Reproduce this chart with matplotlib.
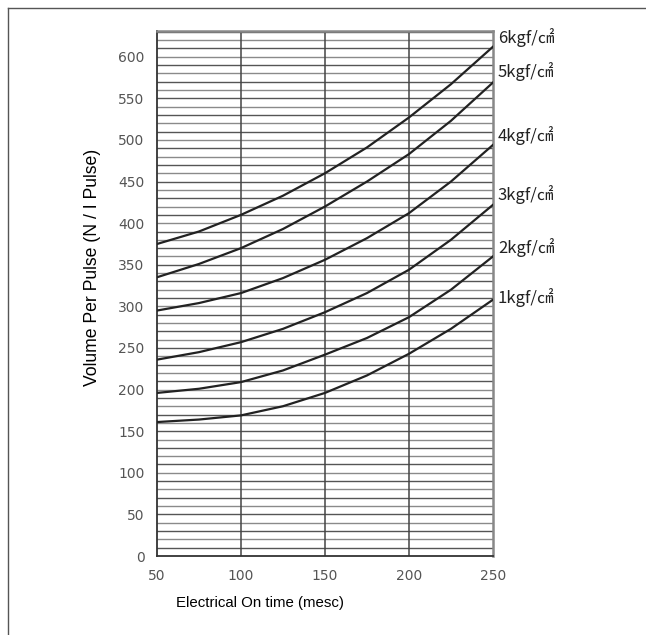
import matplotlib
matplotlib.use("Agg")
import matplotlib.pyplot as plt
from matplotlib.lines import Line2D
import numpy as np

# Data
on_time = [50, 75, 100, 125, 150, 175, 200, 225, 250]
p6 = [375, 390, 410, 433, 460, 491, 527, 567, 612]
p5 = [335, 351, 370, 393, 420, 450, 483, 523, 569]
p4 = [295, 304, 316, 334, 356, 382, 412, 450, 494]
p3 = [236, 245, 257, 273, 293, 316, 344, 380, 422]
p2 = [196, 201, 209, 223, 242, 262, 287, 320, 360]
p1 = [161, 164, 169, 180, 196, 217, 243, 273, 308]
series = [p6, p5, p4, p3, p2, p1]
labels = ["6kgf/㎠", "5kgf/㎠", "4kgf/㎠", "3kgf/㎠", "2kgf/㎠", "1kgf/㎠"]
label_y = [623, 582, 505, 434, 371, 311]
xticks = [50, 100, 150, 200, 250]
yticks = [0, 50, 100, 150, 200, 250, 300, 350, 400, 450, 500, 550, 600]

fig = plt.figure(figsize=(6.46, 6.35), dpi=100)
ax = fig.add_axes([0.243, 0.1244, 0.520, 0.8268])
ax.set_xlim(50, 250)
ax.set_ylim(0, 631)

# horizontal grid every 10
for i, yv in enumerate(range(10, 631, 10)):
    col = "#555555" if i % 2 == 0 else "#8a8a8a"
    ax.axhline(yv, color=col, lw=1.0, zorder=1)
for xv in [100, 150, 200]:
    ax.axvline(xv, color="#444444", lw=1.1, zorder=2)

for s in series:
    ax.plot(on_time, s, color="#222222", lw=1.6, zorder=3)

for lab, yv in zip(labels, label_y):
    ax.text(253, yv, lab, fontsize=12, color="#222222", va="center", ha="left",
            family=["Liberation Sans Narrow", "Noto Sans CJK JP"], clip_on=False)

for side in ["left", "bottom"]:
    ax.spines[side].set_color("#333333")
    ax.spines[side].set_linewidth(1.3)
for side in ["right", "top"]:
    ax.spines[side].set_color("#888888")
    ax.spines[side].set_linewidth(1.8)

ax.set_xticks(xticks)
ax.set_yticks(yticks)
ax.tick_params(length=0, pad=9, labelsize=10, labelcolor="#555555")
for t in ax.get_xticklabels() + ax.get_yticklabels():
    t.set_family(["Liberation Sans Narrow", "DejaVu Sans"])

ax.set_xlabel("Electrical On time (mesc)", fontsize=10.8, family="Liberation Sans")
ax.xaxis.set_label_coords(0.307, -0.0895)
ax.xaxis.label.set_verticalalignment("center")
ax.set_ylabel("Volume Per Pulse (N / I Pulse)", fontsize=12.7, family="Liberation Sans")
ax.yaxis.set_label_coords(-0.193, 0.549)
ax.yaxis.label.set_verticalalignment("center")

# outer frame (left and top edges)
fig.add_artist(Line2D([8/646, 8/646], [0, 1 - 8/635], transform=fig.transFigure, color="#555555", lw=1))
fig.add_artist(Line2D([8/646, 1], [1 - 8/635, 1 - 8/635], transform=fig.transFigure, color="#555555", lw=1))

fig.savefig("out.png", dpi=100)
